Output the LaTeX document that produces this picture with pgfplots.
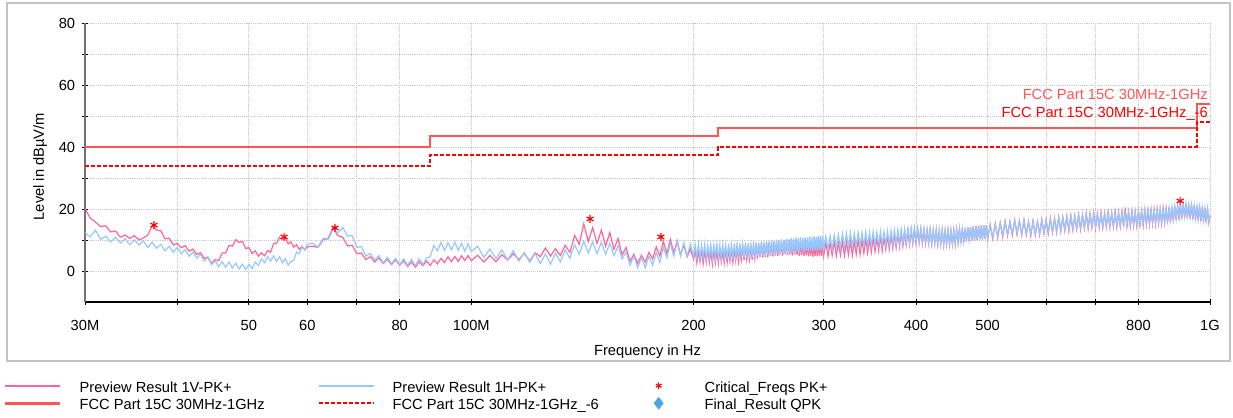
\documentclass[border=0pt]{standalone}
\usepackage{fontspec}
\setmainfont{Liberation Sans}
\usepackage{pgfplots}
\pgfplotsset{compat=1.18}
\usepackage{pgfplotstable}

\definecolor{pkV}{RGB}{255,102,150}
\definecolor{pkH}{RGB}{150,200,255}
\definecolor{limA}{RGB}{255,85,85}
\definecolor{limB}{RGB}{255,0,0}
\definecolor{qpk}{RGB}{77,163,230}
\definecolor{framec}{RGB}{195,195,195}
\definecolor{gridc}{RGB}{200,200,200}

\newcommand{\fs}{\fontsize{11pt}{13pt}\selectfont}

\pgfplotsset{
  linelegend/.style={legend image code/.code={%
    \draw[##1] (0pt,0pt) -- (41.25pt,0pt);
    \path (0pt,0pt) (54.75pt,0pt);}},
  marklegend/.style={legend image code/.code={%
    \path (0pt,0pt) (54.75pt,0pt);
    \draw[##1] plot coordinates {(20.6pt,0pt)};}},
}

% Preview Result 1V-PK+
\pgfplotstableread{
f v
30.0 20.2
30.5 17.0
31.0 15.8
31.5 14.3
32.0 14.6
32.5 12.6
33.0 12.9
33.5 10.9
34.0 11.6
34.5 10.5
35.0 11.4
35.5 10.0
36.0 10.7
36.5 11.6
37.0 14.7
37.5 13.2
38.0 13.0
38.5 10.4
39.0 10.6
39.5 8.4
40.0 8.9
40.5 7.5
41.0 8.2
41.5 6.4
42.0 7.1
42.5 5.3
43.0 5.9
43.5 4.1
44.0 4.5
44.5 2.5
45.0 3.7
45.5 3.3
46.0 5.8
46.5 5.8
47.0 8.3
47.5 8.0
48.0 10.1
48.5 9.2
49.0 9.6
49.5 7.2
50.0 7.6
50.5 5.6
51.0 6.5
51.5 4.8
52.0 5.9
52.5 4.9
53.0 6.6
53.5 6.0
54.0 8.9
54.5 9.0
55.0 10.9
55.5 10.1
56.0 10.5
56.5 8.8
57.0 9.4
57.5 7.7
58.0 8.5
58.5 7.0
59.0 8.0
59.5 6.7
60.0 7.8
61 8.0
62 7.6
63 10.0
64 10.5
65 14.0
66 11.4
67 10.9
68 8.1
69 8.3
70 5.6
71 5.8
72 3.7
73 4.6
74 2.9
75 4.2
76 2.4
77 3.8
78 2.1
79 3.6
80 1.8
81 3.3
82 1.5
83 2.9
84 1.2
85 3.0
86 1.7
87 3.2
88 1.8
89 3.6
90 2.3
91 4.1
92 2.7
93 4.6
94 3.0
95 4.7
96 3.1
97 4.9
98 3.4
99 5.0
100 3.3
102 5.1
104 2.9
106 5.0
108 3.0
110 5.3
112 3.5
114 5.6
116 3.7
118 5.7
120 3.2
122 5.9
124 4.6
126 7.4
128 4.8
130 7.2
132 5.0
134 8.3
136 6.0
138 11.5
140 8.6
142 15.2
144 9.5
146 14.0
148 8.9
150 13.2
152 8.0
154 12.4
156 7.0
158 10.5
160 5.2
162 7.6
164 3.1
166 5.4
168 2.4
170 5.1
172 2.8
174 6.0
176 3.9
178 7.8
180 4.8
182 9.6
184 5.6
186 10.2
188 5.9
190 9.8
192 5.2
194 8.4
196 4.6
198 7.0
200 3.8
201 6.8
202 2.6
203 6.5
204 3.0
205 7.1
206 2.4
207 6.6
208 2.9
209 6.9
210 2.7
211 6.4
212 2.2
213 7.0
214 2.8
215 6.6
216 2.5
217 6.9
218 3.0
219 6.3
220 2.6
221 7.2
222 2.8
223 6.8
224 3.2
225 7.4
226 2.9
227 7.0
228 3.4
229 7.6
230 3.1
231 7.3
232 3.6
233 7.9
234 3.5
235 8.1
236 3.8
237 7.8
238 3.9
239 8.3
240 3.7
241 8.2
242 4.2
243 8.7
244 4.0
245 8.5
246 4.5
247 9.0
248 4.3
249 8.8
250 4.6
251 9.1
252 4.4
253 9.3
254 4.9
255 8.9
256 4.7
257 9.5
258 5.0
259 9.2
260 4.8
261 9.7
262 5.2
263 9.4
264 5.0
265 9.9
266 5.4
267 9.6
268 5.1
269 10.1
270 5.3
271 9.8
272 5.0
273 9.5
274 5.4
275 9.9
276 5.1
277 9.6
278 4.9
279 9.4
280 5.2
281 9.7
282 4.8
283 9.2
284 5.1
285 9.5
286 4.7
287 9.1
288 5.0
289 9.4
290 4.6
291 9.0
292 4.9
293 9.3
294 4.7
295 9.1
296 5.0
297 9.4
298 4.8
299 9.0
300 5.0
302 9.2
304 4.8
306 9.0
308 5.1
310 9.5
312 4.9
314 9.3
316 5.2
318 9.6
320 5.0
322 9.4
324 5.3
326 9.8
328 5.1
330 9.9
332 5.5
334 10.2
336 5.4
338 10.0
340 5.8
342 10.5
344 5.9
346 10.3
348 6.2
350 10.8
352 6.3
354 10.6
356 6.6
358 11.1
360 6.5
362 10.9
364 7.0
366 11.4
368 7.1
370 11.6
372 7.4
374 12.0
376 7.6
378 12.1
380 7.9
382 12.5
384 8.1
386 12.7
388 8.4
390 13.0
392 8.6
394 13.2
396 8.8
398 13.4
400 8.9
402 13.2
404 9.1
406 13.5
408 8.9
410 13.3
412 8.8
414 13.1
416 9.0
418 13.4
420 8.7
422 13.0
424 8.9
426 13.2
428 8.5
430 12.9
432 8.7
434 13.1
436 8.4
438 12.8
440 8.8
442 13.2
444 8.5
446 12.9
448 8.7
450 13.0
452 8.6
454 13.3
456 9.0
458 13.5
460 9.1
462 13.7
464 9.3
466 13.9
468 9.5
470 14.1
472 9.7
474 14.2
476 9.8
478 14.4
480 10.0
482 14.5
484 9.9
486 14.7
488 10.2
490 14.6
492 10.1
494 14.8
496 10.3
498 14.6
500 10.2
504 14.9
508 10.4
512 15.3
516 10.8
520 15.6
524 11.0
528 16.1
532 11.4
536 15.9
540 11.5
544 16.4
548 11.8
552 16.2
556 11.6
560 16.5
564 11.7
568 15.9
572 11.4
576 16.2
580 11.6
584 16.0
588 11.7
592 16.6
596 12.0
600 16.5
604 12.1
608 17.0
612 12.4
616 16.9
620 12.5
624 17.4
628 12.8
632 17.3
636 13.0
640 17.6
644 12.9
648 17.9
652 13.3
656 17.7
660 13.5
664 18.2
668 13.4
672 18.1
676 13.8
680 18.5
684 13.7
688 18.4
692 14.0
696 18.7
700 13.9
704 18.5
708 14.1
712 18.8
716 14.0
720 18.6
724 14.2
728 19.0
732 14.1
736 18.7
740 14.3
744 19.1
748 14.2
752 18.9
756 14.4
760 19.2
764 14.3
768 20.5
772 14.5
776 19.0
780 14.4
784 19.3
788 14.6
792 19.1
796 14.5
800 19.4
804 14.8
808 19.3
812 14.7
816 19.6
820 15.0
824 19.5
828 14.9
832 19.8
836 15.2
840 19.7
844 15.1
848 20.0
852 15.4
856 19.9
860 15.3
864 20.2
868 15.6
872 20.1
876 15.5
880 20.5
884 15.8
888 20.7
892 16.0
896 21.0
900 16.4
904 21.3
908 16.6
912 21.5
916 16.9
920 21.7
924 17.1
928 21.8
932 17.0
936 21.6
940 16.9
944 21.4
948 16.7
952 21.2
956 16.5
960 21.0
964 16.3
968 20.8
972 16.1
976 20.6
980 15.9
984 20.4
988 15.8
992 20.3
996 15.7
1000 18.0
}\redV

% Preview Result 1H-PK+
\pgfplotstableread{
f v
30.0 12.3
30.5 11.0
31.0 13.2
31.5 10.2
32.0 11.2
32.5 9.4
33.0 10.9
33.5 9.0
34.0 10.4
34.5 8.5
35.0 10.1
35.5 8.4
36.0 9.7
36.5 7.6
37.0 9.3
37.5 7.3
38.0 8.6
38.5 6.5
39.0 8.0
39.5 6.0
40.0 7.6
40.5 5.5
41.0 6.9
41.5 4.7
42.0 6.1
42.5 4.1
43.0 5.4
43.5 3.2
44.0 4.4
44.5 2.1
45.0 3.3
45.5 1.4
46.0 3.0
46.5 1.2
47.0 2.9
47.5 1.0
48.0 2.5
48.5 0.6
49.0 2.2
49.5 0.5
50.0 2.1
50.5 0.8
51.0 2.9
51.5 1.8
52.0 3.9
52.5 2.7
53.0 4.7
53.5 3.2
54.0 4.9
54.5 3.1
55.0 4.6
55.5 2.7
56.0 4.0
56.5 1.9
57.0 3.1
57.5 3.4
58.0 6.1
58.5 5.6
59.0 7.8
59.5 6.8
60.0 8.6
61 9.0
62 7.7
63 10.5
64 10.2
65 13.3
66 12.4
67 14.0
68 11.3
69 11.4
70 7.6
71 7.9
72 4.8
73 5.7
74 3.5
75 5.0
76 2.6
77 4.4
78 2.4
79 4.1
80 2.0
81 3.9
82 1.9
83 3.8
84 1.7
85 3.9
86 2.1
87 4.2
88 4.6
89 8.3
90 6.5
91 9.2
92 6.6
93 9.1
94 6.8
95 9.3
96 6.7
97 9.0
98 6.4
99 8.8
100 6.3
102 8.0
104 4.4
106 7.1
108 4.0
110 6.8
112 3.6
114 6.5
116 3.2
118 6.0
120 2.8
122 5.7
124 2.4
126 5.5
128 2.2
130 5.7
132 2.9
134 6.8
136 4.1
138 8.5
140 5.4
142 9.6
144 5.8
146 9.4
148 5.6
150 9.3
152 5.4
154 9.0
156 4.9
158 8.2
160 3.9
162 6.2
164 1.9
166 4.8
168 1.1
170 4.3
172 1.0
174 4.8
176 1.9
178 6.0
180 2.7
182 7.6
184 4.3
186 8.9
188 4.8
190 9.4
192 4.9
194 9.1
196 4.8
198 8.7
200 4.6
201 8.5
202 4.2
203 8.8
204 4.0
205 8.4
206 4.3
207 8.7
208 3.9
209 8.3
210 4.1
211 8.6
212 3.8
213 8.4
214 4.2
215 8.7
216 3.9
217 8.3
218 4.0
219 8.6
220 4.1
221 8.4
222 3.9
223 8.8
224 4.2
225 8.5
226 4.0
227 8.9
228 4.3
229 8.6
230 4.1
231 9.0
232 4.4
233 8.7
234 4.2
235 9.1
236 4.5
237 8.8
238 4.3
239 9.2
240 4.6
241 8.9
242 4.4
243 9.3
244 4.8
245 9.1
246 4.6
247 9.5
248 5.0
249 9.3
250 4.8
251 9.7
252 5.2
253 9.5
254 5.0
255 9.9
256 5.4
257 9.7
258 5.2
259 10.1
260 5.6
261 9.9
262 5.4
263 10.3
264 5.7
265 10.1
266 5.5
267 10.4
268 5.9
269 10.2
270 5.7
271 10.6
272 6.1
273 10.4
274 5.9
275 10.8
276 6.2
277 10.6
278 6.0
279 10.9
280 6.4
281 10.7
282 6.2
283 11.0
284 6.5
285 10.8
286 6.3
287 11.2
288 6.6
289 11.0
290 6.4
291 11.3
292 6.7
293 11.1
294 6.5
295 11.4
296 6.8
297 11.2
298 6.6
299 11.4
300 6.9
302 11.2
304 6.8
306 11.4
308 7.0
310 11.6
312 7.2
314 11.8
316 7.4
318 12.0
320 7.5
322 12.1
324 7.7
326 12.3
328 7.8
330 12.2
332 7.9
334 12.5
336 8.0
338 12.4
340 8.1
342 12.6
344 8.2
346 12.5
348 8.1
350 12.7
352 8.3
354 12.6
356 8.2
358 12.8
360 8.4
362 12.7
364 8.3
366 12.9
368 8.5
370 13.0
372 8.6
374 13.1
376 8.7
378 13.3
380 8.8
382 13.4
384 9.0
386 13.5
388 9.1
390 13.7
392 9.2
394 13.8
396 9.3
398 13.9
400 9.4
402 13.8
404 9.5
406 13.8
408 9.3
410 13.6
412 9.2
414 13.5
416 9.1
418 13.4
420 9.0
422 13.3
424 8.9
426 13.2
428 8.8
430 13.2
432 8.8
434 13.3
436 8.7
438 13.2
440 8.8
442 13.1
444 8.7
446 13.2
448 8.8
450 13.3
452 8.9
454 13.4
456 9.1
458 13.6
460 9.3
462 13.8
464 9.5
466 14.0
468 9.6
470 14.1
472 9.8
474 14.2
476 9.9
478 14.3
480 10.0
482 14.4
484 10.1
486 14.6
488 10.2
490 14.7
492 10.3
494 14.8
496 10.4
498 14.8
500 10.4
504 14.7
508 11.0
512 15.1
516 11.3
520 15.4
524 11.6
528 15.8
532 11.9
536 15.9
540 12.1
544 16.2
548 12.2
552 16.1
556 12.1
560 16.2
564 12.0
568 15.9
572 11.9
576 16.0
580 11.9
584 16.1
588 12.1
592 16.3
596 12.3
600 16.5
604 12.5
608 16.7
612 12.7
616 16.9
620 12.9
624 17.1
628 13.1
632 17.3
636 13.3
640 17.5
644 13.5
648 17.7
652 13.7
656 17.8
660 13.8
664 18.0
668 14.0
672 18.1
676 14.1
680 18.2
684 14.2
688 18.3
692 14.3
696 18.4
700 14.4
704 18.5
708 14.5
712 18.5
716 14.5
720 18.6
724 14.6
728 18.6
732 14.6
736 18.7
740 14.7
744 18.7
748 14.7
752 18.8
756 14.8
760 18.8
764 14.8
768 18.9
772 14.9
776 19.0
780 15.0
784 19.0
788 15.0
792 19.1
796 15.1
800 19.2
804 15.2
808 19.3
812 15.3
816 19.4
820 15.4
824 20.5
828 15.5
832 19.6
836 15.6
840 19.7
844 15.7
848 19.8
852 15.8
856 19.9
860 15.9
864 20.0
868 16.0
872 20.1
876 16.1
880 20.3
884 16.3
888 20.6
892 16.6
896 20.9
900 16.9
904 21.2
908 17.2
912 21.4
916 17.4
920 21.6
924 17.6
928 21.7
932 17.7
936 21.6
940 17.5
944 21.3
948 17.2
952 21.1
956 17.0
960 20.9
964 16.8
968 20.7
972 16.6
976 20.5
980 16.4
984 20.3
988 16.2
992 20.2
996 16.1
1000 18.0
}\blueH

% Critical_Freqs PK+
\pgfplotstableread{
f v
37.2 14.8
55.8 11.0
65.4 13.9
144.8 16.8
180.6 11.0
911 22.6
}\critF

% FCC Part 15C 30MHz-1GHz
\pgfplotstableread{
f v
30 40
88 40
88 43.5
216 43.5
216 46
960 46
960 54
1000 54
}\limit

% FCC Part 15C 30MHz-1GHz_-6
\pgfplotstableread{
f v
30 34
88 34
88 37.5
216 37.5
216 40
960 40
960 48
1000 48
}\limitsix

\begin{document}
\begin{tikzpicture}
\useasboundingbox (-63.75pt,-87pt) rectangle (861pt,226.5pt);
\draw[framec, line width=1.1pt] (-58.5pt,-44.25pt) rectangle (858.75pt,224.25pt);
\begin{axis}[
  at={(0,0)}, anchor=south west,
  scale only axis, width=843.75pt, height=209.25pt,
  xmode=log, xmin=30, xmax=1000, ymin=-10, ymax=80,
  xtick={30,40,50,60,70,80,100,200,300,400,500,600,700,800,1000},
  xticklabels={30M,,50,60,,80,100M,200,300,400,500,,,800,1G},
  ytick={0,10,...,80},
  yticklabels={0,,20,,40,,60,,80},
  grid=major,
  major grid style={densely dotted, gridc, line width=0.7pt},
  axis lines=left, axis line style={-},
  x axis line style={black, line width=0.9pt},
  y axis line style={black!55, line width=1.5pt},
  tick align=center, major tick length=4pt,
  tick style={black, line width=0.7pt},
  tick label style={font=\fs},
  xticklabel style={anchor=base, inner sep=0pt, yshift=-19pt},
  yticklabel style={anchor=east, inner sep=0pt, xshift=-5.25pt},
  label style={font=\fs},
  xlabel={Frequency in Hz},
  ylabel={Level in dBµV/m},
  xlabel style={at={(axis description cs:0.5,-0.1935)}, anchor=base},
  ylabel style={at={(axis description cs:-0.04,0.485)}, anchor=center},
  legend columns=3,
  legend cell align=left,
  legend style={at={(axis description cs:-0.0720,-0.26846)}, anchor=north west,
    draw=none, fill=none, inner sep=0pt, outer sep=0pt,
    row sep=0pt, column sep=0pt, font=\fs,
    nodes={inner sep=0pt, text height=11.55pt, text depth=1.65pt}},
]
\addplot[limA, line width=1.5pt, forget plot] table[x=f, y=v] {\limit};
\addplot[limB, line width=1.5pt, dash pattern=on 3pt off 1.5pt, forget plot] table[x=f, y=v] {\limitsix};
\addplot[pkV, line width=0.9pt, forget plot] table[x=f, y=v] {\redV};
\addplot[pkH, line width=0.9pt, forget plot] table[x=f, y=v] {\blueH};
\addplot[red, only marks, mark=asterisk, mark size=3pt, line width=0.9pt, forget plot] table[x=f, y=v] {\critF};

\node[anchor=base east, inner sep=0pt, text=limA, font=\fs, xshift=-1.5pt] at (axis cs:1000,55.4) {FCC Part 15C 30MHz-1GHz};
\node[anchor=base east, inner sep=0pt, text=limB, font=\fs, xshift=-1.5pt] at (axis cs:1000,49.6) {FCC Part 15C 30MHz-1GHz\_-6};

\addlegendimage{linelegend, color=pkV, draw=pkV, line width=1.2pt}
\addlegendentry{\makebox[178.5pt][l]{Preview Result 1V-PK+}}
\addlegendimage{linelegend, color=pkH, draw=pkH, line width=1.2pt}
\addlegendentry{\makebox[178.5pt][l]{Preview Result 1H-PK+}}
\addlegendimage{marklegend, red, mark=asterisk, mark size=2.5pt, line width=0.8pt}
\addlegendentry{Critical\_Freqs PK+}
\addlegendimage{linelegend, limA, line width=2pt}
\addlegendentry{\makebox[178.5pt][l]{FCC Part 15C 30MHz-1GHz}}
\addlegendimage{linelegend, limB, line width=1.5pt, dash pattern=on 3pt off 1.5pt}
\addlegendentry{\makebox[178.5pt][l]{FCC Part 15C 30MHz-1GHz\_-6}}
\addlegendimage{marklegend, qpk, mark=diamond*, mark size=4.5pt}
\addlegendentry{Final\_Result QPK}
\end{axis}
\end{tikzpicture}
\end{document}
